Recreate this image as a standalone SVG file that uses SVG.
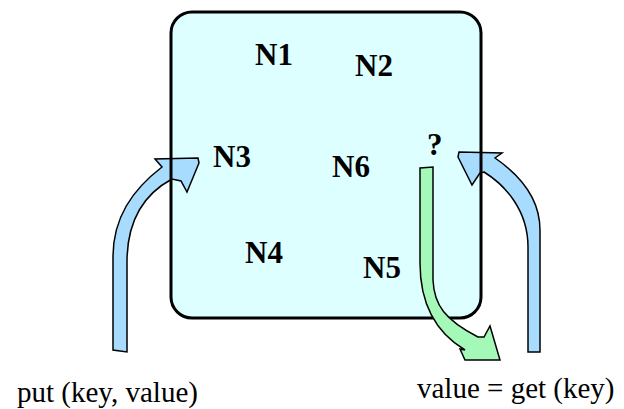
<svg xmlns="http://www.w3.org/2000/svg" width="624" height="409" viewBox="0 0 624 409">
<style>
.lbl{font-family:"Liberation Serif","Times New Roman",serif;font-size:31px;font-weight:bold;fill:#000}
.cap{font-family:"Liberation Serif","Times New Roman",serif;font-size:29px;fill:#000}
.arr{stroke:#000;stroke-width:1.5;stroke-linejoin:miter}
.blue{fill:#a8dcff}
.green{fill:#a4f8b8}
</style>
<rect width="624" height="409" fill="#fff"/>
<g id="store">
<rect x="171" y="12" width="310" height="306" rx="21" fill="#ddffff"/>
</g>
<g id="connectors">
<path id="put-arrow" class="arr blue" d="M113,350 L113,257 C113,218 132,190 162,167 L155,159 L198,158 L199,163 L187,192 L181,181 L172,179 C146,193 127,218 127,262 L127,352 Z"/>
<path id="get-in-arrow" class="arr blue" d="M540,352 L540,230 C540,205 527,180 495,158 L502,153 L459,152 L458,157 L472,185 L480,173 L484,172 C505,185 528,210 528,247 L528,352 Z"/>
</g>
<rect x="171" y="12" width="310" height="306" rx="21" fill="none" stroke="#000" stroke-width="3"/>
<g id="connectors-get">
<path id="get-out-arrow" class="arr green" d="M420,168 L433,167 L433,280 C434,305 445,320 478,337 L484,337 L490,326 L500,360 L465,360 L460,349 L465,350 C440,335 420,310 420,263 Z"/>
</g>
<g id="N1"><text class="lbl" x="255" y="65">N1</text></g>
<g id="N2"><text class="lbl" x="355" y="76">N2</text></g>
<g id="N3"><text class="lbl" x="213" y="167">N3</text></g>
<g id="N6"><text class="lbl" x="332" y="177">N6</text></g>
<g id="Q"><text class="lbl" x="427" y="155">?</text></g>
<g id="N4"><text class="lbl" x="245" y="263">N4</text></g>
<g id="N5"><text class="lbl" x="363" y="278">N5</text></g>
<g id="put-label"><text class="cap" x="17" y="402">put (key, value)</text></g>
<g id="get-label"><text class="cap" x="417" y="398">value = get (key)</text></g>
</svg>
